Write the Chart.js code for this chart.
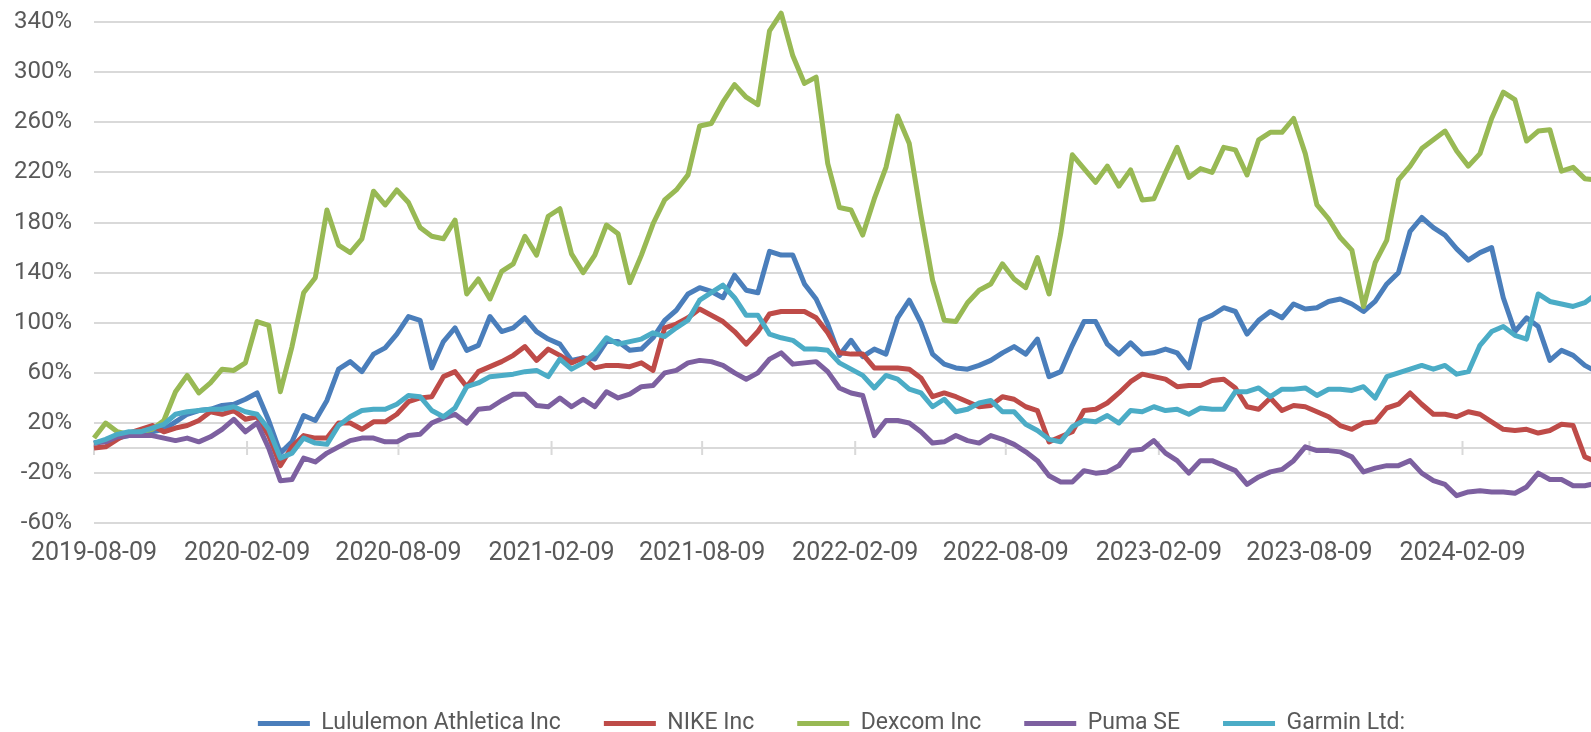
<!DOCTYPE html>
<html>
<head>
<meta charset="utf-8">
<title>Total return since 2019-08-09</title>
<script src="https://cdn.jsdelivr.net/npm/chart.js@4.4.1/dist/chart.umd.min.js"></script>
<style>
  html, body { margin: 0; padding: 0; background: #fff; }
  #frame { width: 1591px; height: 732px; overflow: hidden; position: relative; }
  #box { position: absolute; left: 0; top: 0; width: 1663px; height: 745px; }
</style>
</head>
<body>
<div id="frame"><div id="box"><canvas id="chart"></canvas></div></div>
<script>
// one point every two weeks, first point is 2019-08-09
const stepDays = 14;

const tickDays = [0, 184, 366, 550, 731, 915, 1096, 1280, 1461, 1645];
const tickLabels = ['2019-08-09', '2020-02-09', '2020-08-09', '2021-02-09', '2021-08-09',
    '2022-02-09', '2022-08-09', '2023-02-09', '2023-08-09', '2024-02-09'];
const yTicks = [-60, -20, 20, 60, 100, 140, 180, 220, 260, 300, 340];

// cumulative return, %
const lululemon = [
    4, 6, 8, 10, 11, 13, 15, 21, 27, 30,
    31, 34, 35, 39, 44, 22, -4, 5, 26, 22,
    38, 63, 69, 61, 75, 80, 91, 105, 102, 64,
    85, 96, 78, 82, 105, 93, 96, 104, 93, 87,
    83, 70, 72, 71, 85, 85, 78, 79, 88, 102,
    110, 123, 128, 125, 120, 138, 126, 124, 157, 154,
    154, 131, 119, 99, 74, 86, 73, 79, 75, 104,
    118, 100, 75, 67, 64, 63, 66, 70, 76, 81,
    75, 87, 57, 61, 82, 101, 101, 83, 75, 84,
    75, 76, 79, 76, 64, 102, 106, 112, 109, 91,
    102, 109, 104, 115, 111, 112, 117, 119, 115, 109,
    117, 131, 140, 173, 184, 176, 170, 159, 150, 156,
    160, 120, 93, 104, 97, 70, 78, 74, 66, 61
];
const nike = [
    0, 1, 7, 12, 15, 18, 13, 16, 18, 22,
    29, 27, 30, 23, 25, 10, -14, 1, 10, 8,
    8, 20, 20, 15, 21, 21, 27, 37, 40, 41,
    57, 61, 49, 61, 65, 69, 74, 81, 70, 79,
    74, 68, 72, 64, 66, 66, 65, 68, 62, 96,
    99, 104, 111, 106, 101, 93, 83, 93, 107, 109,
    109, 109, 104, 92, 76, 75, 75, 64, 64, 64,
    63, 56, 41, 44, 41, 37, 33, 34, 41, 39,
    33, 30, 5, 9, 13, 30, 31, 36, 44, 53,
    59, 57, 55, 49, 50, 50, 54, 55, 48, 33,
    31, 40, 30, 34, 33, 29, 25, 18, 15, 20,
    21, 32, 35, 44, 35, 27, 27, 25, 29, 27,
    21, 15, 14, 15, 12, 14, 19, 18, -7, -11
];
const dexcom = [
    8, 20, 13, 11, 13, 15, 22, 45, 58, 44,
    52, 63, 62, 68, 101, 98, 45, 81, 124, 136,
    190, 162, 156, 167, 205, 194, 206, 196, 176, 169,
    167, 182, 123, 135, 119, 141, 147, 169, 154, 185,
    191, 155, 140, 154, 178, 171, 132, 154, 179, 198,
    206, 218, 257, 259, 276, 290, 280, 274, 333, 347,
    313, 291, 296, 227, 192, 190, 170, 199, 224, 265,
    243, 186, 134, 102, 101, 116, 126, 131, 147, 135,
    128, 152, 123, 171, 234, 223, 212, 225, 209, 222,
    198, 199, 220, 240, 216, 223, 220, 240, 238, 218,
    246, 252, 252, 263, 235, 194, 183, 168, 158, 113,
    148, 166, 214, 225, 239, 246, 253, 237, 225, 235,
    263, 284, 278, 245, 253, 254, 221, 224, 215, 214
];
const puma = [
    4, 5, 9, 10, 10, 10, 8, 6, 8, 5,
    9, 15, 23, 13, 20, 0, -26, -25, -8, -11,
    -4, 1, 6, 8, 8, 5, 5, 10, 11, 20,
    24, 27, 20, 31, 32, 38, 43, 43, 34, 33,
    40, 33, 39, 33, 45, 40, 43, 49, 50, 60,
    62, 68, 70, 69, 66, 60, 55, 60, 71, 76,
    67, 68, 69, 61, 48, 44, 42, 10, 22, 22,
    20, 13, 4, 5, 10, 6, 4, 10, 7, 3,
    -3, -10, -22, -27, -27, -18, -20, -19, -14, -2,
    -1, 6, -4, -10, -20, -10, -10, -14, -18, -29,
    -23, -19, -17, -10, 1, -2, -2, -3, -7, -19,
    -16, -14, -14, -10, -20, -26, -29, -38, -35, -34,
    -35, -35, -36, -31, -20, -25, -25, -30, -30, -28
];
const garmin = [
    4, 7, 11, 13, 13, 16, 19, 27, 29, 30,
    31, 31, 33, 29, 27, 15, -8, -4, 8, 4,
    3, 18, 25, 30, 31, 31, 35, 42, 41, 30,
    25, 32, 49, 52, 57, 58, 59, 61, 62, 57,
    71, 63, 68, 76, 88, 83, 85, 87, 92, 89,
    96, 102, 118, 124, 130, 120, 106, 106, 91, 88,
    86, 79, 79, 78, 68, 63, 58, 48, 58, 55,
    47, 44, 33, 39, 29, 31, 36, 38, 29, 29,
    19, 14, 7, 5, 17, 22, 21, 26, 20, 30,
    29, 33, 30, 31, 27, 32, 31, 31, 45, 45,
    48, 41, 47, 47, 48, 42, 47, 47, 46, 49,
    40, 57, 60, 63, 66, 63, 66, 59, 61, 82,
    93, 97, 90, 87, 123, 117, 115, 113, 116, 123
];

const series = [
    {label: 'Lululemon Athletica Inc', data: lululemon, color: '#4a7ebb'},
    {label: 'NIKE Inc', data: nike, color: '#be4b48'},
    {label: 'Dexcom Inc', data: dexcom, color: '#98b954'},
    {label: 'Puma SE', data: puma, color: '#7d60a0'},
    {label: 'Garmin Ltd:', data: garmin, color: '#4bacc6'}
];

const days = lululemon.map((v, i) => i * stepDays);
const fontFamily = 'Roboto, sans-serif';
const textColor = '#595959';
const gridColor = '#d9d9d9';

// horizontal axis line at 0% with its tick marks, like the Excel original
const zeroAxis = {
    id: 'zeroAxis',
    beforeDatasetsDraw(chart) {
        const {ctx, chartArea, scales} = chart;
        const y0 = scales.y.getPixelForValue(0);
        ctx.save();
        ctx.strokeStyle = gridColor;
        ctx.lineWidth = 2;
        ctx.beginPath();
        ctx.moveTo(chartArea.left, y0);
        ctx.lineTo(chartArea.right, y0);
        tickDays.forEach(d => {
            const px = scales.x.getPixelForValue(d);
            ctx.moveTo(px, y0 - 7);
            ctx.lineTo(px, y0 + 7);
        });
        ctx.stroke();
        ctx.restore();
    }
};

new Chart(document.getElementById('chart'), {
    type: 'line',
    data: {
        labels: days,
        datasets: series.map((s, k) => ({
            label: s.label,
            data: s.data,
            borderColor: s.color,
            backgroundColor: s.color,
            borderWidth: 5,
            borderJoinStyle: 'round',
            pointRadius: 0,
            tension: 0,
            clip: false,
            order: series.length - k // later series drawn on top
        }))
    },
    options: {
        responsive: true,
        maintainAspectRatio: false,
        animation: false,
        devicePixelRatio: 1,
        layout: { padding: {top: 22, left: 0, right: 0, bottom: 0} },
        scales: {
            x: {
                type: 'linear',
                min: 0,
                max: 1886,
                afterBuildTicks: axis => { axis.ticks = tickDays.map(v => ({value: v})); },
                afterFit: axis => { axis.height = 145.7; },
                grid: { display: false },
                border: { display: false },
                ticks: {
                    color: textColor,
                    font: {family: fontFamily, size: 25},
                    maxRotation: 0,
                    autoSkip: false,
                    padding: 7,
                    callback: (v, i) => tickLabels[i]
                }
            },
            y: {
                min: -60,
                max: 340,
                afterBuildTicks: axis => { axis.ticks = yTicks.map(v => ({value: v})); },
                afterFit: axis => { axis.width = 94; },
                // invisible tick marks keep the labels 22px off the plot
                grid: { color: gridColor, lineWidth: 2, drawTicks: true, tickLength: 22, tickColor: 'rgba(0,0,0,0)' },
                border: { display: false },
                ticks: {
                    color: textColor,
                    font: {family: fontFamily, size: 24},
                    padding: 0,
                    callback: v => v + '%'
                }
            }
        },
        plugins: {
            tooltip: { enabled: false },
            legend: {
                position: 'bottom',
                labels: {
                    color: textColor,
                    font: {family: fontFamily, size: 23},
                    boxWidth: 52,
                    boxHeight: 5,
                    padding: 43,
                    sort: (a, b) => a.datasetIndex - b.datasetIndex,
                    generateLabels: chart => Chart.defaults.plugins.legend.labels.generateLabels(chart)
                        .map(item => Object.assign(item, {lineWidth: 0}))
                }
            }
        }
    },
    plugins: [zeroAxis]
});
</script>
</body>
</html>
